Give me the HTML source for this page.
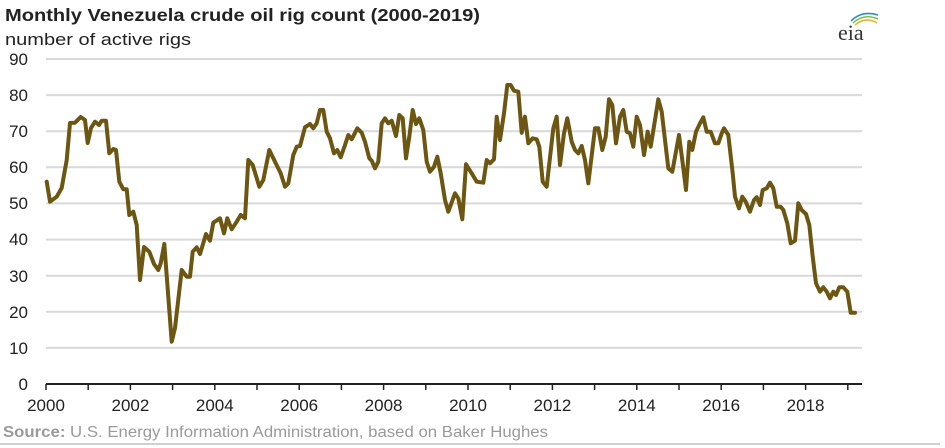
<!DOCTYPE html>
<html><head><meta charset="utf-8"><style>
body{margin:0;background:#fff;}
svg{display:block;font-family:"Liberation Sans",Arial,sans-serif;}
</style></head><body>
<svg width="945" height="448" viewBox="0 0 945 448">
<rect width="945" height="448" fill="#fff"/>
<text x="5" y="21" font-size="17.5" font-weight="bold" fill="#222" textLength="475" lengthAdjust="spacingAndGlyphs">Monthly Venezuela crude oil rig count (2000-2019)</text>
<text x="5" y="45" font-size="17" fill="#222" textLength="186" lengthAdjust="spacingAndGlyphs">number of active rigs</text>
<g stroke="#d9d9d9" stroke-width="2">
<line x1="46" x2="862" y1="59" y2="59"/><line x1="46" x2="862" y1="95.1" y2="95.1"/><line x1="46" x2="862" y1="131.2" y2="131.2"/><line x1="46" x2="862" y1="167.3" y2="167.3"/><line x1="46" x2="862" y1="203.4" y2="203.4"/><line x1="46" x2="862" y1="239.6" y2="239.6"/><line x1="46" x2="862" y1="275.7" y2="275.7"/><line x1="46" x2="862" y1="311.8" y2="311.8"/><line x1="46" x2="862" y1="347.9" y2="347.9"/>
</g>
<g font-size="17" fill="#222" text-anchor="end">
<text x="28" y="65">90</text><text x="28" y="101">80</text><text x="28" y="137">70</text><text x="28" y="173">60</text><text x="28" y="209">50</text><text x="28" y="245">40</text><text x="28" y="282">30</text><text x="28" y="318">20</text><text x="28" y="354">10</text><text x="28" y="390">0</text>
</g>
<line x1="46" x2="862" y1="384" y2="384" stroke="#222" stroke-width="2"/>
<g stroke="#222" stroke-width="1.5">
<line x1="46" x2="46" y1="384" y2="390"/><line x1="88.2" x2="88.2" y1="384" y2="390"/><line x1="130.4" x2="130.4" y1="384" y2="390"/><line x1="172.6" x2="172.6" y1="384" y2="390"/><line x1="214.8" x2="214.8" y1="384" y2="390"/><line x1="257" x2="257" y1="384" y2="390"/><line x1="299.2" x2="299.2" y1="384" y2="390"/><line x1="341.4" x2="341.4" y1="384" y2="390"/><line x1="383.6" x2="383.6" y1="384" y2="390"/><line x1="425.8" x2="425.8" y1="384" y2="390"/><line x1="468" x2="468" y1="384" y2="390"/><line x1="510.2" x2="510.2" y1="384" y2="390"/><line x1="552.4" x2="552.4" y1="384" y2="390"/><line x1="594.6" x2="594.6" y1="384" y2="390"/><line x1="636.8" x2="636.8" y1="384" y2="390"/><line x1="679" x2="679" y1="384" y2="390"/><line x1="721.2" x2="721.2" y1="384" y2="390"/><line x1="763.4" x2="763.4" y1="384" y2="390"/><line x1="805.6" x2="805.6" y1="384" y2="390"/><line x1="847.8" x2="847.8" y1="384" y2="390"/>
</g>
<g font-size="17" fill="#222" text-anchor="middle">
<text x="46" y="411">2000</text><text x="130.4" y="411">2002</text><text x="214.8" y="411">2004</text><text x="299.2" y="411">2006</text><text x="383.6" y="411">2008</text><text x="468" y="411">2010</text><text x="552.4" y="411">2012</text><text x="636.8" y="411">2014</text><text x="721.2" y="411">2016</text><text x="805.6" y="411">2018</text>
</g>
<polyline fill="none" stroke="#6d5612" stroke-width="4" stroke-linejoin="round" stroke-linecap="round" points="46.7,181.7 50,201.7 56.7,196.7 61.7,188 66.7,160 70,123 75,122.7 80.7,117 85,120 87.7,143 91,128 95,121.7 99,125 101.7,120.7 106,120.7 109.3,153.3 113.3,149 116,150 119.3,181.7 123.3,189.3 126.7,189.3 129.3,215 133.3,211.7 136.7,225 140,280 144,247 149.3,251.7 154,264 158.3,270 160.7,263.3 164.3,244 171.7,341.7 175,328 181.7,270 186.7,276.7 190,276.7 192.7,251.7 196.7,247.3 200,254 206,234 210,240.7 213.3,222.7 220,218.3 224,233.3 227.3,218.3 231.7,229.3 236.7,221.7 240.7,215 245,218.3 248.3,160 252.7,165 259.3,186.7 263.3,180 269.3,150 275,161.7 280.7,173.3 285,186.7 288.3,183.3 293.3,155 296.7,146.7 300,146 305,127.3 310,124 313.3,128.3 316.7,123.3 320,110 323.3,110 326.7,131.7 330,138.3 334,153.3 337.3,150 340.7,157.3 345,145 348.3,135 351.7,139.3 357.3,128.3 361.7,132.7 365,141.7 369.3,158.3 371.7,160.7 375,168.3 378.3,161.7 381.7,123.3 385,118.3 388.3,123.3 391.7,120.7 396,136 399.3,115 402.7,118.3 406,158.3 409.3,136.7 412.7,110 416,124 419.3,118.3 423.3,130 426.7,161.7 430,171.7 434,166.7 437.3,156.7 440.7,173.3 445,200 448.3,211.7 455,193.3 458.3,198.3 462.3,219.3 466,164.3 471.7,173.3 476.7,181.7 483.3,182.7 486.7,160 490,163.3 494,159.3 496.7,116.7 500,140 504,113.3 507.3,85 510.7,85 514,90.7 518.3,91.7 521.7,132.7 525,116.7 528.3,143.3 532.7,138.3 536.7,139.3 539.3,146.7 542.7,181.7 546.7,186.7 553.3,128.3 556.7,116.7 560,165 564,133.3 567.3,118.3 571.7,141.7 575,150 578.3,153.3 581.7,146 585,160 588.3,183.3 595,128.3 598.3,128.3 602.3,150 605.7,136.7 609,99.3 612.3,105 616,143.3 620,116.7 623.3,110 626.7,131.7 630,133.3 633.3,146.7 636.7,116.7 640,125 644,155 647.7,131.7 650.7,146.7 655,120 658.3,99.3 661.7,111.7 668.3,168.3 672.3,171.7 679,135 682.7,163.3 686,190 689.3,141.7 692.3,150 696,131.7 700,123.3 703.3,117.3 706.7,131.7 710.7,131.7 715,143.3 718.3,143.3 721.7,133.3 724,128.3 728.3,135 732.7,173.3 735,196.7 739,208.3 742.3,196.7 745.7,201.7 750,211.7 754,200 756.7,197.3 760,205 762.7,190 766.7,188.3 770,182.7 773.3,188.3 776.7,206.7 780.7,206.7 783.3,210 787.3,223.3 790.7,243.3 795,240.7 798.3,203.3 801.7,210 806,214 809.3,225 812.7,256.7 816,283.3 820,291.7 823.3,287.3 826.7,291.7 830,298.3 833.3,291.7 836,295 839.3,287.3 843.3,287.3 847.3,291.7 850.7,312.7 855,312.7"/>
<text x="3" y="437" font-size="15.5" fill="#9a9a9a" textLength="545" lengthAdjust="spacingAndGlyphs"><tspan font-weight="bold">Source:</tspan> U.S. Energy Information Administration, based on Baker Hughes</text>
<line x1="0" x2="940" y1="444" y2="444" stroke="#d0d0d0" stroke-width="2"/>
<g fill="none" stroke-width="1.5">
<path d="M851 21 Q862 10 878 15" stroke="#2a8fc8"/>
<path d="M853 23 Q864 13 878 19" stroke="#7cbf3f"/>
<path d="M855 25 Q866 16 877 23" stroke="#e8b22c"/>
</g>
<text x="838" y="40" font-family="'Liberation Serif',serif" font-size="22" fill="#333">eia</text>
</svg>
</body></html>
